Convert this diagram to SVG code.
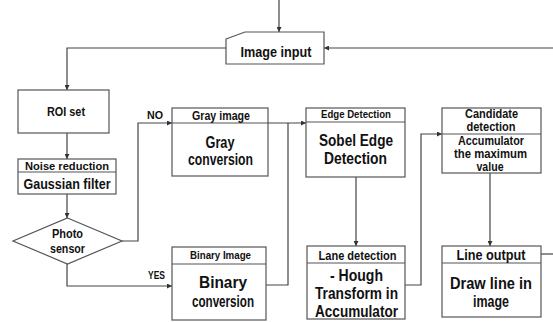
<svg xmlns="http://www.w3.org/2000/svg" width="553" height="322" viewBox="0 0 553 322">
<defs>
<marker id="arr" viewBox="0 0 6 6" refX="6" refY="3" markerWidth="5" markerHeight="5" orient="auto" markerUnits="userSpaceOnUse">
<path d="M0,0 L6,3 L0,6 z" fill="#333"/>
</marker>
</defs>
<style>
.box{fill:#fff;stroke:#555;stroke-width:1.2}
.div{stroke:#555;stroke-width:1.2}
.ln{fill:none;stroke:#444;stroke-width:1.2}
.ar{marker-end:url(#arr)}
text{font-family:"Liberation Sans",Arial,sans-serif;font-weight:700;fill:#111;text-anchor:middle}
.s11{font-size:11px}.s12{font-size:12px}.s13{font-size:13px}.s14{font-size:14px}.s15{font-size:15px}.s16{font-size:16px}
</style>
<rect width="553" height="322" fill="#fff"/>
<g id="connectors">
<path class="ln ar" d="M279,0 V32"/>
<path class="ln ar" d="M553,48 H324"/>
<path class="ln ar" d="M226,48 H67 V90"/>
<path class="ln ar" d="M67,133 V159"/>
<path class="ln ar" d="M67,194 V218"/>
<path class="ln ar" d="M122,241 H138 V123 H172"/>
<path class="ln ar" d="M67,264 V286 H172"/>
<path class="ln" d="M266,285 H288 V123"/>
<path class="ln ar" d="M268,123 H306"/>
<path class="ln ar" d="M356,177 V246"/>
<path class="ln ar" d="M405,285 H421 V134 H442"/>
<path class="ln ar" d="M490,173 V246"/>
<path class="ln" d="M541,254 H553"/>
<text class="s11" x="155" y="119" textLength="16" lengthAdjust="spacingAndGlyphs">NO</text>
<text class="s11" x="156.5" y="279" textLength="17" lengthAdjust="spacingAndGlyphs">YES</text>
</g>
<g id="image-input">
<path class="box" d="M226,39 L245,32 H324 V64 H226 Z"/>
<text class="s14" x="276" y="57" textLength="71" lengthAdjust="spacingAndGlyphs">Image input</text>
</g>
<g id="roi-set">
<rect class="box" x="18" y="90" width="91" height="43"/>
<text class="s13" x="66" y="116" textLength="38" lengthAdjust="spacingAndGlyphs">ROI set</text>
</g>
<g id="noise-reduction">
<rect class="box" x="18" y="159" width="98" height="35"/>
<line class="div" x1="18" y1="172" x2="116" y2="172"/>
<text class="s11" x="67" y="170" textLength="84" lengthAdjust="spacingAndGlyphs">Noise reduction</text>
<text class="s15" x="67" y="189" textLength="87" lengthAdjust="spacingAndGlyphs">Gaussian filter</text>
</g>
<g id="photo-sensor">
<path class="box" d="M67.5,218 L122,241 L67.5,264 L13,241 Z"/>
<text class="s12" x="67.5" y="238" textLength="31" lengthAdjust="spacingAndGlyphs">Photo</text>
<text class="s12" x="67.5" y="253" textLength="35" lengthAdjust="spacingAndGlyphs">sensor</text>
</g>
<g id="gray-image">
<rect class="box" x="172" y="108" width="96" height="68"/>
<line class="div" x1="172" y1="123" x2="268" y2="123"/>
<text class="s12" x="221" y="120" textLength="58" lengthAdjust="spacingAndGlyphs">Gray image</text>
<text class="s16" x="220" y="148" textLength="29" lengthAdjust="spacingAndGlyphs">Gray</text>
<text class="s16" x="220.5" y="165" textLength="65" lengthAdjust="spacingAndGlyphs">conversion</text>
</g>
<g id="binary-image">
<rect class="box" x="172" y="247" width="94" height="73"/>
<line class="div" x1="172" y1="264" x2="266" y2="264"/>
<text class="s11" x="220.5" y="259" textLength="61" lengthAdjust="spacingAndGlyphs">Binary Image</text>
<text class="s16" x="223" y="288" textLength="48" lengthAdjust="spacingAndGlyphs">Binary</text>
<text class="s16" x="223" y="307" textLength="62" lengthAdjust="spacingAndGlyphs">conversion</text>
</g>
<g id="edge-detection">
<rect class="box" x="306" y="108" width="99" height="69"/>
<line class="div" x1="306" y1="122" x2="405" y2="122"/>
<text class="s11" x="356" y="118" textLength="70" lengthAdjust="spacingAndGlyphs">Edge Detection</text>
<text class="s16" x="356" y="146" textLength="74" lengthAdjust="spacingAndGlyphs">Sobel Edge</text>
<text class="s16" x="355.5" y="164" textLength="63" lengthAdjust="spacingAndGlyphs">Detection</text>
</g>
<g id="lane-detection">
<rect class="box" x="307" y="246" width="98" height="73"/>
<line class="div" x1="307" y1="263" x2="405" y2="263"/>
<text class="s13" x="357.5" y="260" textLength="78" lengthAdjust="spacingAndGlyphs">Lane detection</text>
<text class="s16" x="356.5" y="281" textLength="53" lengthAdjust="spacingAndGlyphs">- Hough</text>
<text class="s16" x="356.5" y="299" textLength="83" lengthAdjust="spacingAndGlyphs">Transform in</text>
<text class="s16" x="356.5" y="317" textLength="83" lengthAdjust="spacingAndGlyphs">Accumulator</text>
</g>
<g id="candidate-detection">
<rect class="box" x="442" y="108" width="99" height="65"/>
<line class="div" x1="442" y1="134" x2="541" y2="134"/>
<text class="s12" x="491.5" y="118" textLength="53" lengthAdjust="spacingAndGlyphs">Candidate</text>
<text class="s12" x="491" y="131" textLength="49" lengthAdjust="spacingAndGlyphs">detection</text>
<text class="s12" x="491" y="145" textLength="66" lengthAdjust="spacingAndGlyphs">Accumulator</text>
<text class="s12" x="490.5" y="158" textLength="73" lengthAdjust="spacingAndGlyphs">the maximum</text>
<text class="s12" x="490" y="171" textLength="27" lengthAdjust="spacingAndGlyphs">value</text>
</g>
<g id="line-output">
<rect class="box" x="442" y="246" width="99" height="71"/>
<line class="div" x1="442" y1="263" x2="541" y2="263"/>
<text class="s14" x="491" y="260" textLength="69" lengthAdjust="spacingAndGlyphs">Line output</text>
<text class="s16" x="491" y="289" textLength="82" lengthAdjust="spacingAndGlyphs">Draw line in</text>
<text class="s16" x="491" y="307" textLength="36" lengthAdjust="spacingAndGlyphs">image</text>
</g>
</svg>
